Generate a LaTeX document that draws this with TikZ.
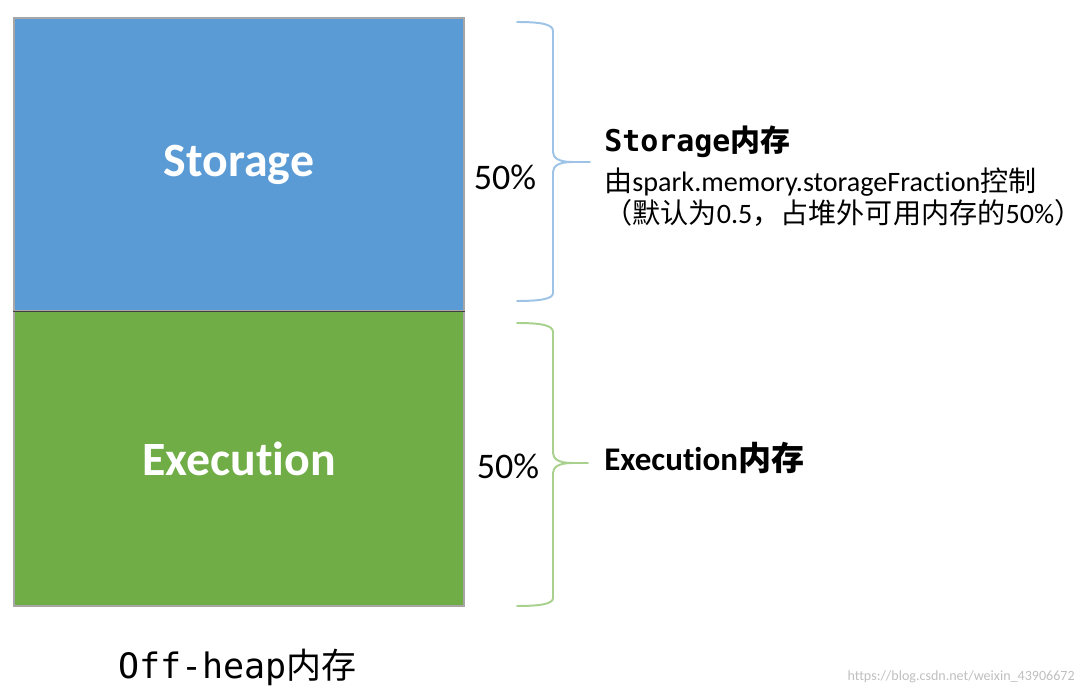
\documentclass[tikz,border=0pt]{standalone}
\usepackage{fontspec}
\setmainfont[Ligatures=NoCommon]{Carlito}
\newfontfamily\cjk{Noto Sans CJK SC}
\newfontfamily\mono{DejaVu Sans Mono}
\usetikzlibrary{positioning}
\definecolor{storeblue}{HTML}{5B9BD5}
\definecolor{execgreen}{HTML}{70AD47}
\definecolor{braceblue}{HTML}{9DC3E6}
\definecolor{bracegreen}{HTML}{A9D18E}
\definecolor{rimgray}{HTML}{A6A6A6}
\newcommand{\fs}[1]{\fontsize{#1pt}{1.2\dimexpr#1pt\relax}\selectfont}

\begin{document}
\begin{tikzpicture}[x=0.025cm,y=-0.025cm,
    memblock/.style={draw=rimgray,line width=1pt,inner sep=0pt,
      minimum width=11.25cm,text=white,font=\fs{34}\bfseries},
    membrace/.style={line width=1.4pt,line cap=round,line join=round},
    pct/.style={font=\fs{25.6}},
    note/.style={anchor=base west,inner sep=0pt}]
  \useasboundingbox (0,0) rectangle (1082,694);

  % the two halves of off-heap memory
  \node[memblock,fill=storeblue,minimum height=7.325cm] (storage) at (239,164.5) {Storage};
  \node[memblock,fill=execgreen,minimum height=7.375cm] (execution) at (239,458.5) {Execution};
  \draw[line width=1pt,black!75] (storage.south west) -- (storage.south east);

  % braces and shares
  \draw[membrace,braceblue] (517,22) .. controls (540,22) and (553,24) .. (553,31)
    -- (553,152) .. controls (553,158) and (559,162) .. (572,162) -- (590,162)
    (572,162) .. controls (559,162) and (553,166) .. (553,172)
    -- (553,293) .. controls (553,299) and (540,301) .. (517,301);
  \draw[membrace,bracegreen] (517,323) .. controls (540,323) and (553,325) .. (553,332)
    -- (553,453) .. controls (553,459) and (559,463) .. (572,463) -- (588,463)
    (572,463) .. controls (559,463) and (553,467) .. (553,473)
    -- (553,598) .. controls (553,604) and (540,606) .. (517,606);
  \node[pct] (sPct) at (505,177) {50\%};
  \node[pct] (ePct) at (508,466) {50\%};

  % notes
  \node[note,font=\fs{21.3}\bfseries] (sTitle) at (604,152) {\mono Storage\cjk 内存};
  \node[note,font=\fs{20}] (sRule) at (604,192) {{\cjk 由}spark.memory.storageFraction{\cjk 控制}};
  \node[note,font=\fs{20}] (sShare) at (604,224) {{\cjk （默认为}0.5{\cjk ，占堆外可用内存的}50\%{\cjk ）}};
  \node[note,font=\fs{23.5}\bfseries] (eTitle) at (604,470) {Execution{\cjk 内存}};

  \node[note,font=\fs{24.9}] (caption) at (118,678) {\mono Off-heap\cjk 内存};
  \node[anchor=base east,inner sep=0pt,font=\fs{10},text=black!25] (mark) at (1075,680)
    {https://blog.csdn.net/weixin\_43906672};
\end{tikzpicture}
\end{document}
